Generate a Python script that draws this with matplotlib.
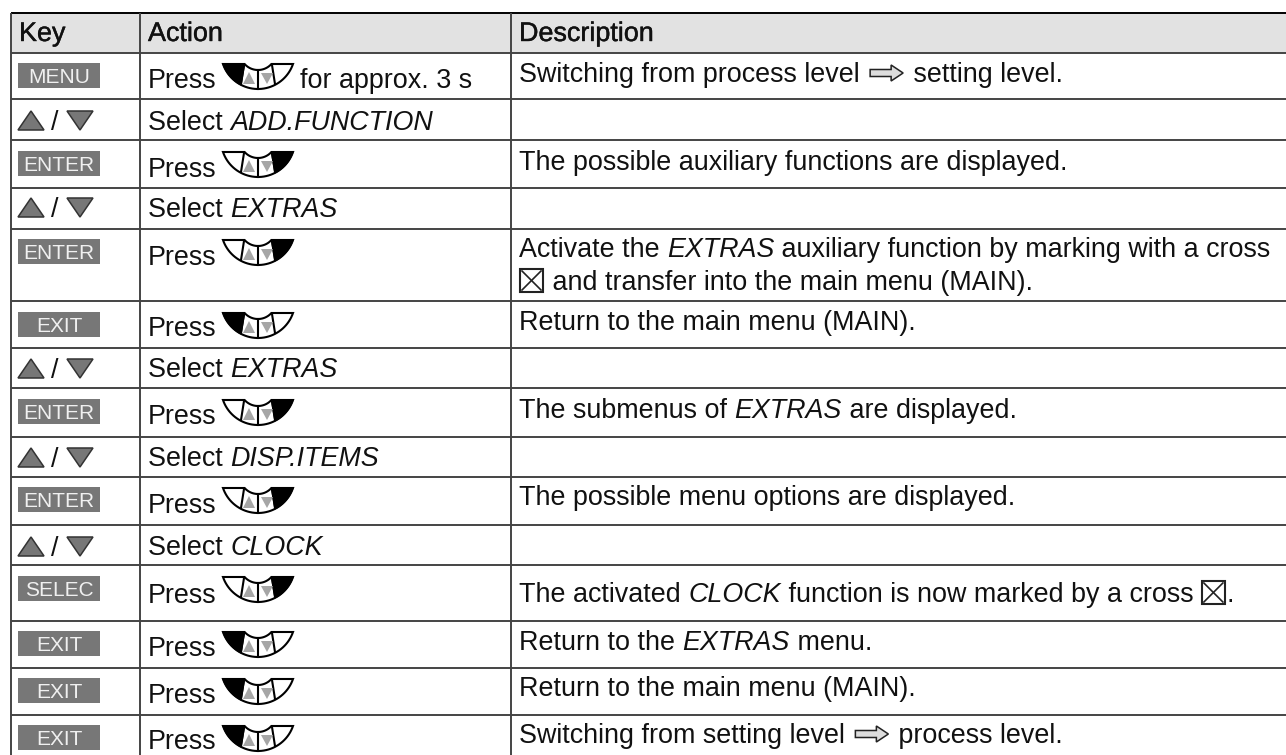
import re
import numpy as np
import matplotlib
matplotlib.use('Agg')
import matplotlib.pyplot as plt
import matplotlib.patheffects as pe
from matplotlib.patches import Polygon, Rectangle

plt.rcParams['font.family'] = ['Liberation Sans', 'DejaVu Sans']

# table content
headers = ['Key', 'Action', 'Description']
keys = ['MENU', 'ARROWS', 'ENTER', 'ARROWS', 'ENTER', 'EXIT', 'ARROWS', 'ENTER',
        'ARROWS', 'ENTER', 'ARROWS', 'SELEC', 'EXIT', 'EXIT', 'EXIT']
actions = ['Press{wheel}for approx. 3 s', 'Select *ADD.FUNCTION*', 'Press{wheel}', 'Select *EXTRAS*',
           'Press{wheel}', 'Press{wheel}', 'Select *EXTRAS*', 'Press{wheel}', 'Select *DISP.ITEMS*',
           'Press{wheel}', 'Select *CLOCK*', 'Press{wheel}', 'Press{wheel}', 'Press{wheel}', 'Press{wheel}']
descriptions = ['Switching from process level {arrow} setting level.', '',
                'The possible auxiliary functions are displayed.', '',
                'Activate the *EXTRAS* auxiliary function by marking with a cross\n{box} and transfer into the main menu (MAIN).',
                'Return to the main menu (MAIN).', '',
                'The submenus of *EXTRAS* are displayed.', '',
                'The possible menu options are displayed.', '',
                'The activated *CLOCK* function is now marked by a cross {box}.',
                'Return to the *EXTRAS* menu.', 'Return to the main menu (MAIN).',
                'Switching from setting level {arrow} process level.']
# which end of the wheel is black, per key
dark_side = {'MENU': 'left', 'EXIT': 'left', 'ENTER': 'right', 'SELEC': 'right'}

# layout in pixels
row_edges = [13, 52.5, 99, 140, 188, 229, 300.5, 347.5, 388, 437, 477, 525, 565, 621, 668, 714.5, 755]
col_edges = [11, 140, 511]
key_tops = [63, 111, 151, 198, 239, 312, 359, 399, 448, 487, 537, 576, 631, 678, 725]
action_base = [88, 130, 177, 217, 265, 336, 377, 424, 466, 513, 555, 603, 656, 703, 749]
desc_base = [82, 0, 170, 0, 257, 330, 0, 418, 0, 505, 0, 602, 650, 696, 743]

fs = 19.4
line_col = '#444444'
ink = '#111111'
heavy = [pe.withStroke(linewidth=0.3, foreground=ink)]

fig = plt.figure(figsize=(12.86, 7.55), dpi=100)
ax = fig.add_axes([0, 0, 1, 1])
ax.set_xlim(0, 1286)
ax.set_ylim(755, 0)
ax.axis('off')
renderer = fig.canvas.get_renderer()


def text_width(s, style):
    # the bar keeps trailing spaces in the measurement
    t1 = ax.text(0, 0, s + '|', fontsize=fs, style=style)
    t2 = ax.text(0, 0, '|', fontsize=fs, style=style)
    w = t1.get_window_extent(renderer).width - t2.get_window_extent(renderer).width
    t1.remove()
    t2.remove()
    return w


def draw_wheel(x0, y0, side):
    cx, cy = x0 + 35, y0 - 12
    r_out, r_in = 37, 18
    a_out = np.arcsin(12 / r_out)
    a_in = np.arcsin(12 / r_in)
    t_out = np.linspace(a_out, np.pi - a_out, 40)
    t_in = np.linspace(np.pi - a_in, a_in, 20)
    outer = np.c_[cx + r_out * np.cos(t_out), cy + r_out * np.sin(t_out)]
    inner = np.c_[cx + r_in * np.cos(t_in), cy + r_in * np.sin(t_in)]
    ax.add_patch(Polygon(np.r_[outer, inner], closed=True, fc='white', ec='black', lw=1.5, zorder=3))

    # black end segment, cut off by the divider line
    sign = -1 if side == 'left' else 1
    tip = cx + sign * np.sqrt(r_out ** 2 - 12 ** 2)
    t = np.linspace(0, 1, 15)
    xs_end = cx + sign * 17
    ang_end = np.arccos((xs_end - cx) / r_out)
    ang_tip = np.arcsin(12 / r_out) if sign > 0 else np.pi - np.arcsin(12 / r_out)
    arc_t = ang_tip + (ang_end - ang_tip) * t
    arc = np.c_[cx + r_out * np.cos(arc_t), cy + r_out * np.sin(arc_t)]
    inner_x = cx + sign * np.sqrt(r_in ** 2 - 12 ** 2)
    pts = np.r_[[[tip, y0]], arc, [[inner_x, y0]]]
    ax.add_patch(Polygon(pts, closed=True, fc='black', ec='black', lw=1, zorder=4))

    # dividers and small grey arrows
    for s in (-1, 1):
        ax.plot([cx + s * 14, cx + s * 17], [y0 + 1, y0 + 20], color='black', lw=1.5, zorder=4)
    ax.plot([cx, cx], [y0 + 6, y0 + 25], color='black', lw=1.5, zorder=4)
    ax.add_patch(Polygon([[cx - 15, y0 + 20], [cx - 3, y0 + 20], [cx - 9, y0 + 8]], fc='#a6a6a6', ec='none', zorder=5))
    ax.add_patch(Polygon([[cx + 3, y0 + 9], [cx + 15, y0 + 9], [cx + 9, y0 + 20]], fc='#a6a6a6', ec='none', zorder=5))


def draw_box(x, base):
    ax.add_patch(Rectangle((x, base - 21), 23, 23, fc='white', ec='#222222', lw=1.5, zorder=3))
    ax.plot([x + 2, x + 21], [base - 19, base], color='#222222', lw=1.2, zorder=4)
    ax.plot([x + 2, x + 21], [base, base - 19], color='#222222', lw=1.2, zorder=4)


def draw_arrow(x, base):
    y = base - 9
    pts = [[x, y - 3.5], [x + 21, y - 3.5], [x + 21, y - 8], [x + 33, y],
           [x + 21, y + 8], [x + 21, y + 3.5], [x, y + 3.5]]
    ax.add_patch(Polygon(pts, closed=True, fc='#dddddd', ec='#222222', lw=1.1, zorder=3))


def draw_line(s, x, base, side=None, key_top=0):
    # *...* is italic, {wheel} {box} {arrow} are inline symbols
    for part in re.split(r'(\*[^*]+\*|\{\w+\})', s):
        if not part:
            continue
        if part == '{wheel}':
            draw_wheel(223, key_top + 1, side)
            x = 300
        elif part == '{box}':
            draw_box(x + 1, base)
            x += 26
        elif part == '{arrow}':
            draw_arrow(x + 3, base)
            x += 39
        else:
            style = 'italic' if part[0] == '*' else 'normal'
            chunk = part.strip('*')
            ax.text(x, base, chunk, fontsize=fs, style=style, color=ink, va='baseline', ha='left')
            x += text_width(chunk, style)


# header band and grid
ax.add_patch(Rectangle((col_edges[0], row_edges[0]), 1286 - col_edges[0], row_edges[1] - row_edges[0],
                       fc='#e2e2e2', ec='none', zorder=0))
for i, y in enumerate(row_edges[:-1]):
    ax.plot([col_edges[0], 1286], [y, y], color='black' if i == 0 else line_col, lw=1.4, zorder=1, solid_capstyle='butt')
for x in col_edges:
    ax.plot([x, x], [row_edges[0], 755], color=line_col, lw=1.4, zorder=1, solid_capstyle='butt')

for h, x in zip(headers, [19, 148, 519]):
    ax.text(x, 41, h, fontsize=fs, color=ink, va='baseline', ha='left', path_effects=heavy)

for i, key in enumerate(keys):
    top = key_tops[i]
    if key == 'ARROWS':
        ax.add_patch(Polygon([[18, top + 19], [44, top + 19], [31, top]], fc='#777777', ec='#333333', lw=1.1))
        ax.add_patch(Polygon([[67, top], [93, top], [80, top + 19]], fc='#777777', ec='#333333', lw=1.1))
        ax.text(55, top + 19, '/', fontsize=fs, color=ink, ha='center', va='baseline')
    else:
        ax.add_patch(Rectangle((18, top), 82, 25, fc='#777777', ec='none', zorder=2))
        ax.text(59, top + 20, key, fontsize=15, color='#f0f0f0', ha='center', va='baseline', zorder=3)

    draw_line(actions[i], 148, action_base[i], dark_side.get(key), top)

    if descriptions[i]:
        for n, line in enumerate(descriptions[i].split('\n')):
            draw_line(line, 519, desc_base[i] + n * 33)

fig.savefig('out.png', dpi=100)
